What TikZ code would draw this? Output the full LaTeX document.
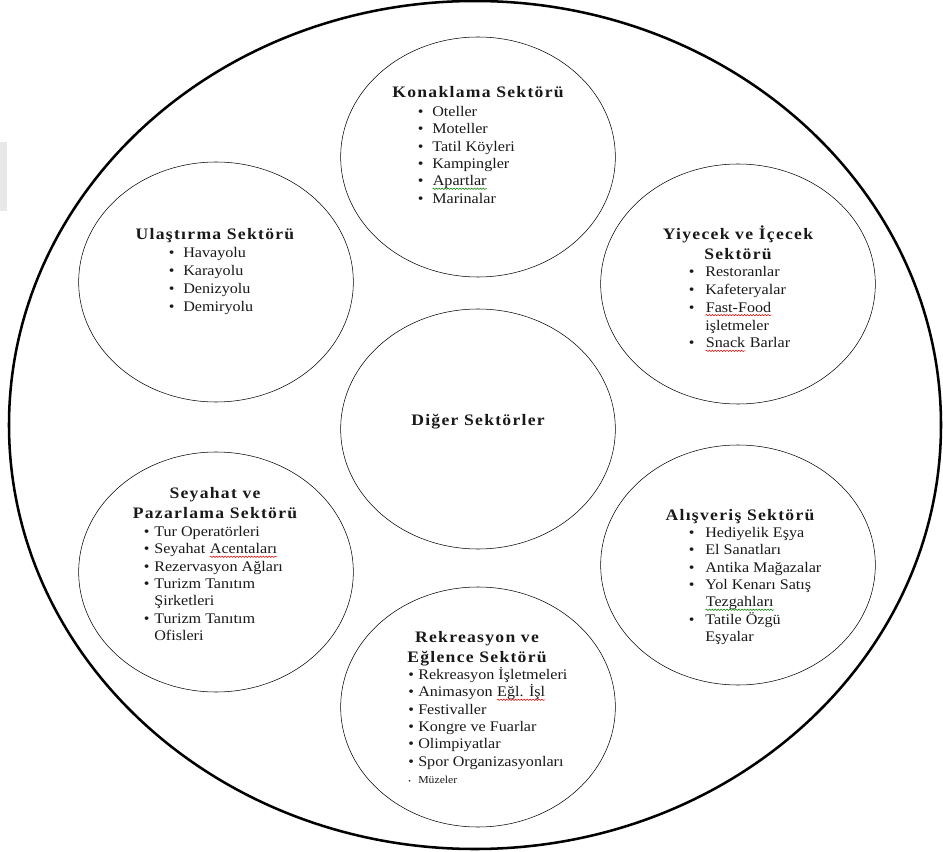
\documentclass[tikz,border=0pt]{standalone}
\usepackage{fontspec}
\setmainfont{Liberation Serif}[FakeStretch=1.1]
\usetikzlibrary{shapes.geometric}
\usetikzlibrary{decorations.pathmorphing}
\tikzset{line width=0.9pt}
\newlength{\bw}
\newcommand{\itm}{\makebox[\bw][l]{\textbullet}}
\newcommand{\cnt}{\hspace*{\bw}}
\newcommand{\wavy}[2]{\tikz[baseline=(w.base)]{\node[inner sep=0pt] (w) {#2};
  \draw[#1,line width=0.4pt,decorate,decoration={snake,amplitude=0.5pt,segment length=2.2pt}]
    ([yshift=-2.2pt]w.base west) -- ([yshift=-2.2pt]w.base east);}}
\newcommand{\redwave}[1]{\wavy{red!85!black}{#1}}
\newcommand{\greenwave}[1]{\wavy{green!50!black}{#1}}

\begin{document}
\begin{tikzpicture}[x=0.75pt,y=-0.75pt,
  sector/.style={ellipse,draw,minimum width=206pt,minimum height=180pt,inner sep=0pt},
  title/.style={anchor=base,inner sep=0pt,text=black!90,font=\fontsize{12pt}{15pt}\selectfont\bfseries\addfontfeature{LetterSpace=8}},
  list/.style={anchor=base west,inner sep=0pt,text=black!90,font=\fontsize{11pt}{13pt}\selectfont,execute at begin node={\setlength{\bw}{#1}}}]
  \useasboundingbox (0,0) rectangle (943,852);
  \fill[black!9] (0,142) rectangle (7,211);

  % outer ring
  \node[sector,line width=1.9pt,minimum width=699pt,minimum height=636pt] (all) at (475,425) {};

  % sectors
  \node[sector] (kon) at (478,157) {};
  \node[sector] (ula) at (216,282) {};
  \node[sector] (yiy) at (738,284) {};
  \node[sector] (dig) at (478,429) {};
  \node[sector] (sey) at (216,572) {};
  \node[sector] (alis) at (738,565) {};
  \node[sector] (rek) at (478,707) {};

  % Konaklama
  \node[title] (kontitle) at (478,98) {Konaklama Sektörü};
  \node[list=10.9pt] (konlist) at (417.5,116.5) {\begin{tabular}[t]{@{}l@{}}
    \itm Oteller\\ \itm Moteller\\ \itm Tatil Köyleri\\ \itm Kampingler\\
    \itm \greenwave{Apartlar}\\ \itm Marinalar\end{tabular}};

  % Ulastirma
  \node[title] (ulatitle) at (215,240) {Ulaştırma Sektörü};
  \node[list=10.9pt] (ulalist) at (168.5,257.5) {\renewcommand{\arraystretch}{1.04}\begin{tabular}[t]{@{}l@{}}
    \itm Havayolu\\ \itm Karayolu\\ \itm Denizyolu\\ \itm Demiryolu\end{tabular}};

  % Yiyecek ve Icecek
  \node[title] (yiytitle) at (738,240) {\begin{tabular}[t]{@{}c@{}}Yiyecek ve İçecek\\ Sektörü\end{tabular}};
  \node[list=12.4pt] (yiylist) at (688.5,276.5) {\renewcommand{\arraystretch}{1.03}\begin{tabular}[t]{@{}l@{}}
    \itm Restoranlar\\ \itm Kafeteryalar\\ \itm \redwave{Fast-Food}\\ \cnt işletmeler\\
    \itm \redwave{Snack} Barlar\end{tabular}};

  % Diger
  \node[title] (digtitle) at (478,426) {Diğer Sektörler};

  % Seyahat ve Pazarlama
  \node[title] (seytitle) at (215,498) {\begin{tabular}[t]{@{}c@{}}Seyahat ve\\ Pazarlama Sektörü\end{tabular}};
  \node[list=7.9pt] (seylist) at (143.5,536.5) {\begin{tabular}[t]{@{}l@{}}
    \itm Tur Operatörleri\\ \itm Seyahat \redwave{Acentaları}\\ \itm Rezervasyon Ağları\\
    \itm Turizm Tanıtım\\ \cnt Şirketleri\\ \itm Turizm Tanıtım\\ \cnt Ofisleri\end{tabular}};

  % Alisveris
  \node[title] (alistitle) at (740,520) {Alışveriş Sektörü};
  \node[list=12.4pt] (alislist) at (688.5,537.5) {\begin{tabular}[t]{@{}l@{}}
    \itm Hediyelik Eşya\\ \itm El Sanatları\\ \itm Antika Mağazalar\\ \itm Yol Kenarı Satış\\
    \cnt \greenwave{Tezgahları}\\ \itm Tatile Özgü\\ \cnt Eşyalar\end{tabular}};

  % Rekreasyon ve Eglence
  \node[title] (rektitle) at (477,642) {\begin{tabular}[t]{@{}c@{}}Rekreasyon ve\\ Eğlence Sektörü\end{tabular}};
  \node[list=7.5pt] (reklist) at (408,679.5) {\begin{tabular}[t]{@{}l@{}}
    \itm Rekreasyon İşletmeleri\\ \itm Animasyon \redwave{Eğl. İşl}\\ \itm Festivaller\\
    \itm Kongre ve Fuarlar\\ \itm Olimpiyatlar\\ \itm Spor Organizasyonları\\
    \makebox[\bw][l]{\tiny\textbullet}{\fontsize{8pt}{9pt}\selectfont Müzeler}\end{tabular}};
\end{tikzpicture}
\end{document}
